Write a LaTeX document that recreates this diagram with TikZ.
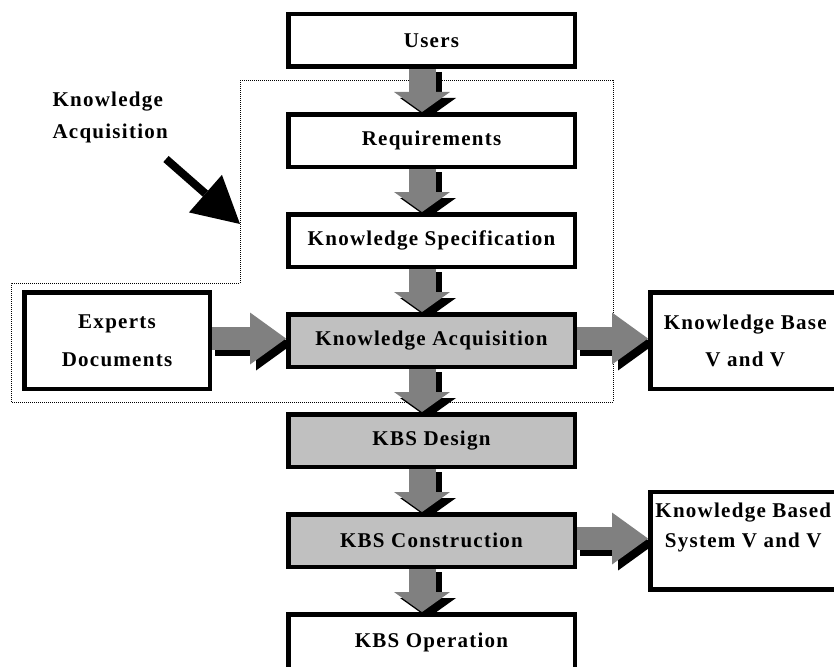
\documentclass[tikz,border=0pt]{standalone}
\usepackage{fontspec}
\setmainfont{Liberation Serif}[LetterSpace=6]
\usepackage{tikz}
\usetikzlibrary{arrows.meta,positioning,backgrounds}

\definecolor{boxgray}{RGB}{192,192,192}
\definecolor{arrowgray}{RGB}{128,128,128}

\begin{document}
\begin{tikzpicture}[
    x=1pt, y=-1pt,
    node distance=43pt,
    font=\fontsize{21}{24}\selectfont\bfseries,
    stage/.style={rectangle, draw, line width=4.5pt, fill=white, minimum width=286.5pt, minimum height=52.5pt, inner sep=0pt},
    active/.style={stage, fill=boxgray},
    sidebox/.style={rectangle, draw, line width=4.5pt, fill=white, align=center, minimum width=185.5pt, minimum height=96.5pt, inner sep=0pt},
    downarrow/.style={line width=27pt, draw=arrowgray, -{Triangle[width=56pt,length=20pt,line width=0pt]}},
    rightarrow/.style={line width=23pt, draw=arrowgray, -{Triangle[width=52pt,length=36pt,line width=0pt]}},
    dropdark/.style={draw=black, transform canvas={shift={(6pt,-6pt)}}}
]
\useasboundingbox (0,0) rectangle (834,666);

% Main stages
\node[stage] (users) at (431.5,40.5) {Users};
\node[stage, below=of users] (req) {Requirements};
\node[stage, below=of req] (spec) {Knowledge Specification};
\node[active, below=of spec] (acq) {Knowledge Acquisition};
\node[active, below=of acq] (design) {KBS Design};
\node[active, below=of design] (build) {KBS Construction};
\node[stage, below=of build, minimum height=62pt, text depth=10pt] (oper) {KBS Operation};

% Side boxes
\node[sidebox, left=74pt of acq, font=\fontsize{21}{38}\selectfont\bfseries] (experts) {Experts\\Documents};
\node[sidebox, right=71pt of acq, minimum width=190pt, font=\fontsize{21}{37}\selectfont\bfseries] (kbvv) {Knowledge Base\\V and V};
\node[sidebox, right=71pt of build, minimum width=186pt, minimum height=97.5pt, font=\fontsize{21}{30}\selectfont\bfseries] (kbsvv) {Knowledge Based\\System V and V\\\mbox{}};

% Knowledge acquisition label
\node[anchor=west, align=left, font=\fontsize{21}{32}\selectfont\bfseries] (kalabel) at (49,117) {Knowledge\\Acquisition};
\coordinate (kafrom) at (166,159);
\coordinate (kato) at (240,224);
\draw[line width=8pt, -{Triangle[width=50pt,length=46pt,line width=0pt]}] (kafrom) -- (kato);

\begin{pgfonlayer}{background}
% Knowledge acquisition area
\draw[densely dotted, line width=1pt] (240,81) -- (613,81) -- (613,402) -- (11,402) -- (11,283) -- (240,283) -- cycle;

% Flow arrows
\foreach \a/\b in {users/req, req/spec, spec/acq, acq/design, design/build, build/oper} {
    \draw[downarrow, dropdark] ([xshift=-9.5pt, yshift=3pt]\a.south) -- ([xshift=-9.5pt]\b.north);
    \draw[downarrow] ([xshift=-9.5pt, yshift=3pt]\a.south) -- ([xshift=-9.5pt]\b.north);
}
\foreach \a/\b in {experts/acq, acq/kbvv, build/kbsvv} {
    \draw[rightarrow, dropdark] ([xshift=-3pt, yshift=2pt]\a.east) -- ([yshift=2pt]\b.west);
    \draw[rightarrow] ([xshift=-3pt, yshift=2pt]\a.east) -- ([yshift=2pt]\b.west);
}
\end{pgfonlayer}

\end{tikzpicture}
\end{document}
